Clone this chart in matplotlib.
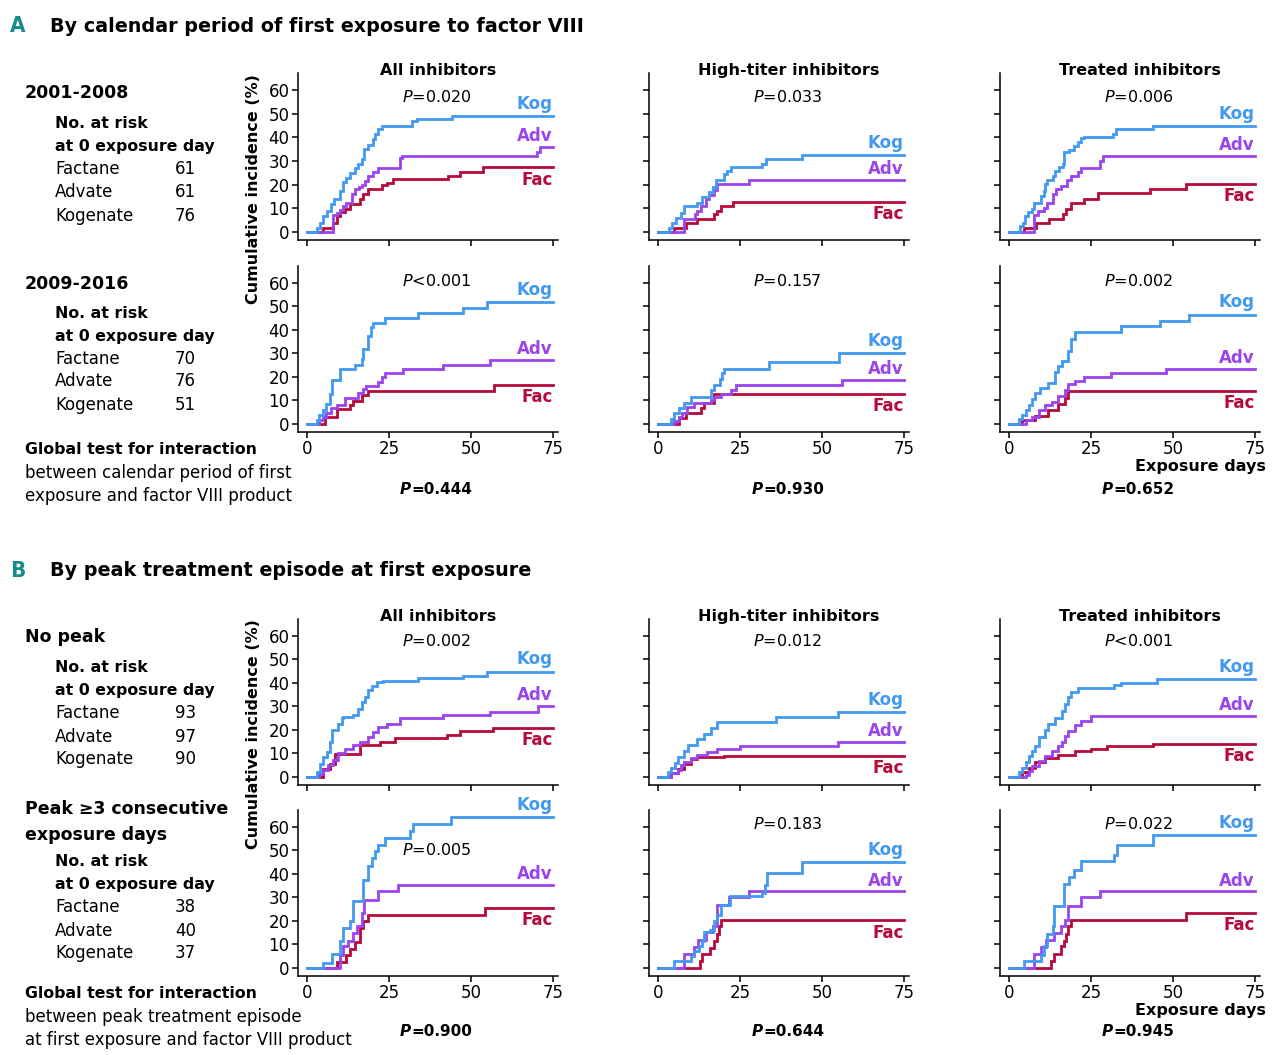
import matplotlib
matplotlib.use("Agg")
import matplotlib.pyplot as plt

# ---------------- data: (exposure day, cumulative incidence %) at each step ----------------
# A, 2001-2008
a1_all_kog = [(3.1, 1.7), (3.9, 3.8), (4.9, 6.7), (6.1, 8.8), (7.4, 11.7), (8.2, 13.8), (10, 17.3), (10.8, 21.2),
              (11.8, 23), (13, 24.9), (14.6, 26.9), (15.6, 28.7), (16.6, 30.9), (17.3, 35.1), (18.6, 36.8),
              (20, 39.4), (20.7, 41.5), (21.7, 43.4), (23, 44.8), (31.9, 46.8), (33.4, 47.9), (44.1, 49.1)]
a1_all_adv = [(8, 7), (9, 8.1), (10, 9.2), (11, 11), (12, 12.4), (13.6, 15.9), (14.6, 18.1), (15.9, 18.8),
              (16.6, 19.8), (17.6, 21.6), (18.6, 23.7), (20.2, 25.2), (21.7, 26.9), (28.3, 31.1), (29.1, 32.3),
              (70.1, 34), (71.1, 35.8)]
a1_all_fac = [(4.7, 1.7), (8, 3.8), (9, 6.7), (10, 8.4), (11.5, 9.8), (13, 11.7), (16.1, 13.8), (17.1, 15.9),
              (18.6, 18.1), (22.7, 19.8), (24.3, 20.9), (26.3, 22.3), (43.1, 23.7), (46.7, 25.5), (53.8, 27.3)]

a1_high_kog = [(3.4, 1.7), (4.1, 3.8), (5.4, 6), (6.9, 8.1), (7.9, 11), (12, 12.4), (13.5, 14.9), (15.6, 16.9),
               (16.6, 19.2), (17.6, 22), (20.1, 24.5), (21.1, 25.9), (22.2, 27.3), (31.8, 28.7), (32.8, 30.9),
               (44, 32.6)]
a1_high_adv = [(7.9, 5.5), (11.2, 7.4), (12, 8.8), (13, 11), (14.5, 13.8), (15.6, 15.5), (17.1, 17.8),
               (18.1, 20.2), (27.7, 22)]
a1_high_fac = [(4.9, 1.7), (8.4, 3.8), (12, 5.5), (17.1, 7.4), (18.1, 8.8), (19.1, 11), (22.7, 12.7)]

a1_treat_kog = [(3.4, 2.4), (4.1, 3.8), (4.8, 6.7), (5.6, 8.4), (7.1, 9.5), (7.7, 12.1), (9.7, 15.2), (10.5, 17.3),
                (10.9, 20.2), (11.7, 22), (13.3, 23.7), (14, 25.9), (15.3, 27.3), (16.3, 28.7), (16.6, 34),
                (18.4, 34.8), (19.9, 36.3), (20.9, 38), (21.9, 39.7), (23, 40.1), (31.6, 41.5), (32.7, 43.4),
                (43.9, 44.8)]
a1_treat_adv = [(7.7, 7), (8.7, 8.8), (10.7, 10.2), (11.7, 12.4), (13.3, 15.9), (14.3, 18.1), (15.8, 19.5),
                (17.7, 22), (18.9, 23.7), (20.9, 25.2), (21.9, 27.2), (27.6, 30.1), (28.6, 32.3)]
a1_treat_fac = [(4.6, 1.7), (8.2, 3.8), (12.2, 5.3), (16.3, 7.4), (17.3, 9.8), (18.9, 12.4), (23, 14.1),
                (27, 16.4), (42.9, 18.1), (54.1, 20.2)]

# A, 2009-2016
a2_all_kog = [(2.9, 1.7), (3.7, 3.8), (4.7, 5.9), (5.7, 8.5), (6.9, 12.7), (7.7, 18.7), (10, 23.6), (14.6, 25),
              (16.6, 27.5), (17.1, 32.1), (18.6, 37.4), (19.4, 41.3), (20.2, 43), (23.7, 44.9), (33.9, 47),
              (47.7, 49.5), (54.8, 51.9)]
a2_all_adv = [(3.7, 1.7), (4.7, 3.1), (5.9, 4.5), (7.4, 6.7), (9, 8.1), (11.5, 10.9), (15.6, 13), (16.9, 14.7),
              (17.9, 16.1), (21.7, 18), (22.7, 19.8), (23.7, 21.5), (29.3, 23.2), (41.6, 25), (55.8, 27.2)]
a2_all_fac = [(5.4, 3.1), (9, 6.2), (13, 8.1), (14.1, 9.9), (16.6, 12.3), (18.6, 14.2), (57.1, 16.6)]

a2_high_kog = [(3.9, 2), (4.9, 4.5), (6.4, 6.7), (7.9, 8.8), (10, 11.6), (16.1, 14.4), (17.1, 16.6), (18.9, 19),
               (19.6, 21.8), (20.1, 23.6), (33.8, 26.5), (55.2, 30.3)]
a2_high_adv = [(4.9, 1.4), (6.4, 3.1), (7.4, 4.5), (8.9, 7.4), (11, 9.1), (16.1, 10.2), (17.1, 11.6), (19.1, 12.7),
               (22.2, 14.4), (23.7, 16.6), (56.2, 18.7)]
a2_high_fac = [(6.4, 2.4), (8.4, 4.5), (13, 6.7), (14, 8.8), (17.1, 12.7)]

a2_treat_kog = [(3, 2), (4, 4), (5, 6), (6, 8), (7, 10.5), (8, 13), (9.5, 15.5), (12, 17.5), (14, 22), (15, 24.5),
                (16, 27), (18, 31), (19, 36), (20, 39), (34, 41.5), (46, 44), (55, 46.5)]
a2_treat_adv = [(5, 1.5), (7, 3), (9, 6), (11, 8), (13, 9.5), (15, 12), (17, 14.5), (18, 17), (20, 18.5),
                (23, 20), (31, 21.5), (48, 23.5)]
a2_treat_fac = [(4, 1.5), (8, 3.5), (12, 6), (15, 8.5), (17, 11), (18, 14)]

# B, no peak
b1_all_kog = [(2.9, 2.1), (3.9, 5.7), (4.9, 8.5), (6.1, 10.7), (6.9, 14.9), (7.7, 19.9), (9.5, 22.7), (10.5, 24.9),
              (11, 25.6), (14.1, 26.3), (15.6, 29.1), (16.6, 32), (17.6, 34.1), (18.6, 37), (19.7, 38.7),
              (21.2, 40.5), (23.2, 41), (33.9, 41.9), (47.7, 42.9), (54.8, 44.8)]
b1_all_adv = [(3.7, 1.1), (4.9, 2.8), (6.4, 5), (7.9, 7.4), (9.5, 10), (11.5, 12.1), (14.1, 13.5), (16.1, 14.9),
              (18.6, 17.1), (20.2, 19.2), (21.7, 21.3), (24.3, 22.7), (28.3, 24.9), (41.6, 26.3), (55.8, 27.7),
              (70.6, 30.1)]
b1_all_fac = [(4.7, 3.6), (6.9, 5.7), (8.5, 9.7), (16.1, 13.5), (22.2, 14.9), (26.8, 16.4), (42.6, 17.8),
              (46.7, 19.6), (56.9, 21)]

b1_high_kog = [(3, 2), (4, 4), (5, 6), (6, 8.5), (8, 11), (9, 13.5), (12, 16), (14, 18.5), (16, 21), (18, 23.5),
               (36, 25.5), (55, 27.5)]
b1_high_adv = [(4, 1.5), (6, 3), (7, 5), (8, 6.5), (10, 8), (12, 9.5), (15, 10.5), (18, 12), (25, 13), (55, 15)]
b1_high_fac = [(4, 1.5), (6, 3.5), (8, 5.5), (10, 7.5), (12, 8.5), (20, 9)]

b1_treat_kog = [(3, 2), (4, 4), (5, 6.5), (6, 9), (7, 11), (8, 13), (9, 17), (11, 20), (12, 22.5), (14, 25),
                (16, 28), (17, 31), (18, 34), (19, 36), (21, 38), (32, 39), (34, 40), (45, 41.5)]
b1_treat_adv = [(5, 1), (6, 2.5), (7, 4.5), (9, 7), (11, 9), (13, 11), (15, 13), (16, 15), (17, 17.5), (18, 19.5),
                (20, 22), (22, 24), (25, 26)]
b1_treat_fac = [(4, 2), (6, 4), (8, 6.5), (11, 8), (15, 9.5), (20, 11), (25, 12), (30, 13), (44, 14)]

# B, peak >=3 consecutive exposure days
b2_all_kog = [(4.9, 2.1), (7.7, 6), (10, 11.3), (10.8, 17), (13, 19.9), (13.9, 28.4), (16.9, 37.3), (18.6, 43.3),
              (19.7, 46.8), (20.7, 49.6), (21.7, 52.5), (23.7, 55.3), (31.4, 58.2), (32.4, 61.3), (43.8, 64.3)]
b2_all_adv = [(10, 5.7), (11, 9.2), (12.5, 11.3), (13.9, 14.9), (15.1, 17.7), (16.6, 23.4), (17.3, 29.1),
              (21.7, 32.6), (27.8, 35.5)]
b2_all_fac = [(9, 2.6), (12, 5.5), (13, 8), (14.6, 11), (16, 17), (17, 20), (18.6, 22.5), (54.3, 25.7)]

b2_high_kog = [(4.9, 2.8), (10, 5), (10.8, 7.1), (12.5, 9.2), (13.5, 11.3), (14, 15.2), (15.9, 16.3), (17.1, 19.9),
               (17.9, 22.7), (19.1, 27), (22, 30.8), (31.8, 31.9), (32.5, 35.5), (33.3, 40.4), (44, 45)]
b2_high_adv = [(7.9, 6.1), (11, 8.9), (12.2, 12.1), (14.5, 15.2), (16.6, 17.7), (17.9, 27), (21.6, 30.2),
               (27.7, 32.6)]
b2_high_fac = [(12.8, 2.8), (13.5, 6.1), (15.9, 8.5), (16.9, 11.3), (17.9, 14.6), (18.6, 17.7), (19.1, 20.3)]

b2_treat_kog = [(4.6, 2.8), (9.7, 5.7), (10.7, 9.2), (11.7, 14.6), (13.3, 17.7), (13.8, 26.5), (16.8, 35.6),
                (18.4, 38.6), (19.7, 41.8), (21.9, 45.4), (32.1, 48.2), (33, 52.5), (43.9, 56.5)]
b2_treat_adv = [(7.7, 6.1), (9.7, 8.9), (11.2, 11.8), (13.8, 14.9), (15.8, 17.7), (17, 20.6), (17.9, 26.5),
                (21.9, 30.2), (27.6, 32.6)]
b2_treat_fac = [(12.8, 2.8), (13.8, 6), (15.8, 9.2), (16.6, 11.3), (17.3, 14.6), (18.1, 17.7), (18.9, 20.3),
                (54.1, 23.4)]

PANEL_TITLES = ["All inhibitors", "High-titer inhibitors", "Treated inhibitors"]
P_PANEL = [["=0.020", "=0.033", "=0.006"],
           ["<0.001", "=0.157", "=0.002"],
           ["=0.002", "=0.012", "<0.001"],
           ["=0.005", "=0.183", "=0.022"]]
P_GLOBAL = [["=0.444", "=0.930", "=0.652"],
            ["=0.900", "=0.644", "=0.945"]]
PRODUCTS = ["Factane", "Advate", "Kogenate"]
AT_RISK = [[61, 61, 76], [70, 76, 51], [93, 97, 90], [38, 40, 37]]

CURVES = [
    [(a1_all_kog, a1_all_adv, a1_all_fac), (a1_high_kog, a1_high_adv, a1_high_fac),
     (a1_treat_kog, a1_treat_adv, a1_treat_fac)],
    [(a2_all_kog, a2_all_adv, a2_all_fac), (a2_high_kog, a2_high_adv, a2_high_fac),
     (a2_treat_kog, a2_treat_adv, a2_treat_fac)],
    [(b1_all_kog, b1_all_adv, b1_all_fac), (b1_high_kog, b1_high_adv, b1_high_fac),
     (b1_treat_kog, b1_treat_adv, b1_treat_fac)],
    [(b2_all_kog, b2_all_adv, b2_all_fac), (b2_high_kog, b2_high_adv, b2_high_fac),
     (b2_treat_kog, b2_treat_adv, b2_treat_fac)],
]

# ---------------- style ----------------
KOG_C, ADV_C, FAC_C = "#4299f0", "#9a44ee", "#b50a3a"
TEAL = "#178a8c"
W, H = 1280, 1055
plt.rcParams["font.family"] = ["DejaVu Sans"]

fig = plt.figure(figsize=(W / 100, H / 100), dpi=100)


def ftext(x, y, s, **kw):
    kw.setdefault("va", "center")
    fig.text(x / W, 1 - y / H, s, **kw)


COL_LEFT = [298, 649, 1000]
ROW_BOX = [(73, 240), (266, 432), (619, 785), (810, 976)]
AX_W = 260
P_Y = [57, 60.7, 58, 61.4]

for r, (top, bot) in enumerate(ROW_BOX):
    for c, left in enumerate(COL_LEFT):
        ax = fig.add_axes([left / W, 1 - bot / H, AX_W / W, (bot - top) / H])
        kog, adv, fac = CURVES[r][c]
        for series, col in ((fac, FAC_C), (adv, ADV_C), (kog, KOG_C)):
            t = [0] + [p[0] for p in series] + [75]
            v = [0] + [p[1] for p in series] + [series[-1][1]]
            ax.step(t, v, where="post", color=col, lw=2.0, solid_joinstyle="miter")
        # series labels at the right end
        ax.text(75, kog[-1][1] + 5.2, "Kog", color=KOG_C, fontsize=12, weight="bold", ha="right", va="center")
        ax.text(75, adv[-1][1] + 4.6, "Adv", color=ADV_C, fontsize=12, weight="bold", ha="right", va="center")
        ax.text(75, fac[-1][1] - 5.2, "Fac", color=FAC_C, fontsize=12, weight="bold", ha="right", va="center")

        py = P_Y[r]
        if r == 3 and c == 0:
            py = 50.3
        ax.text(39.5, py, r"$\it{P}$" + P_PANEL[r][c], fontsize=11.5, ha="center", va="center")
        if r in (0, 2):
            ax.text(40, 68.3, PANEL_TITLES[c], fontsize=11.5, weight="bold", ha="center", va="center",
                    clip_on=False)

        ax.set_xlim(-2.8, 76.6)
        ax.set_ylim(-3.4, 67.2)
        ax.set_xticks([0, 25, 50, 75])
        ax.set_yticks(range(0, 61, 10))
        for s in ("top", "right"):
            ax.spines[s].set_visible(False)
        for s in ("left", "bottom"):
            ax.spines[s].set_linewidth(1.1)
        ax.tick_params(direction="out", length=4, width=1.1, labelsize=12, pad=2,
                       labelbottom=r in (1, 3), labelleft=c == 0)
        ax.patch.set_alpha(0)

# ---------------- section headers ----------------
for y, letter, title in ((26, "A", "By calendar period of first exposure to factor VIII"),
                         (571, "B", "By peak treatment episode at first exposure")):
    ftext(18, y, letter, fontsize=16, weight="bold", color=TEAL, ha="center", fontstretch="condensed")
    ftext(50, y, title, fontsize=13.8, weight="bold", ha="left")

# y-axis labels
for yc in (189, 734):
    ftext(253, yc, "Cumulative incidence (%)", fontsize=11.5, weight="bold", rotation=90, ha="center")

# ---------------- left-hand text blocks ----------------
def risk_block(y0, counts):
    ftext(55, y0, "No. at risk", fontsize=11.3, weight="bold")
    ftext(55, y0 + 23, "at 0 exposure day", fontsize=11.3, weight="bold")
    for i, (name, n) in enumerate(zip(PRODUCTS, counts)):
        ftext(55, y0 + 45.5 + 23 * i, name, fontsize=12)
        ftext(175, y0 + 45.5 + 23 * i, str(n), fontsize=12)


ftext(25, 93, "2001-2008", fontsize=12.5, weight="bold")
risk_block(124, AT_RISK[0])
ftext(25, 284, "2009-2016", fontsize=12.5, weight="bold")
risk_block(313, AT_RISK[1])
ftext(25, 450, "Global test for interaction", fontsize=11.3, weight="bold")
ftext(25, 473, "between calendar period of first", fontsize=12)
ftext(25, 496, "exposure and factor VIII product", fontsize=12)

ftext(25, 637, "No peak", fontsize=12.5, weight="bold")
risk_block(668, AT_RISK[2])
ftext(25, 809, "Peak \u22653 consecutive", fontsize=12.5, weight="bold")
ftext(25, 835, "exposure days", fontsize=12.5, weight="bold")
risk_block(862, AT_RISK[3])
ftext(25, 994, "Global test for interaction", fontsize=11.3, weight="bold")
ftext(25, 1017, "between peak treatment episode", fontsize=12)
ftext(25, 1040, "at first exposure and factor VIII product", fontsize=12)

# global interaction P values under each column
for row_y, vals in ((490, P_GLOBAL[0]), (1032, P_GLOBAL[1])):
    for split, s in zip((411, 763, 1113), vals):
        ftext(split, row_y, "P", fontsize=11, weight="bold", style="italic", ha="right")
        ftext(split, row_y, s, fontsize=11, weight="bold", ha="left")

for y in (467, 1010):
    ftext(1266, y, "Exposure days", fontsize=11.5, weight="bold", ha="right")

fig.savefig("out.png", dpi=100)
